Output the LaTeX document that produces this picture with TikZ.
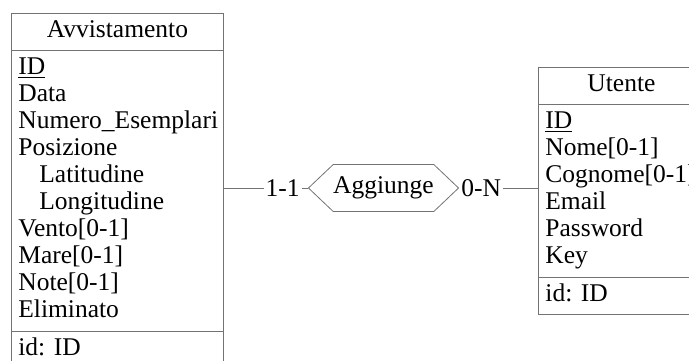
\documentclass[tikz,border=0pt]{standalone}
\usepackage{fontspec}
\setmainfont{Liberation Serif}
\usetikzlibrary{shapes,positioning,calc}

\begin{document}
\begin{tikzpicture}[x=0.5pt, y=-0.5pt, font=\fontsize{12.75}{13.5}\selectfont\frenchspacing,
    entity/.style={rectangle split, rectangle split parts=3, draw=black!55, align=left,
        text width=#1, inner xsep=3.5pt, inner ysep=2.4pt},
    relation/.style={signal, signal to=east and west, signal pointer angle=87, draw=black!55,
        minimum width=71.5pt, minimum height=23.5pt, inner sep=0pt},
    card/.style={fill=white, inner sep=1pt},
    link/.style={draw=black!55}]
        \useasboundingbox (0,0) rectangle (689,360);
        \clip (0,0) rectangle (689,360);

        % Entities
        \node[entity=99pt, anchor=north west] (avv) at (11,13) {%
            \makebox[\hsize]{\strut Avvistamento}
            \nodepart{two}\strut\underline{ID}\\ Data\\ Numero\_Esemplari\\ Posizione\\
            \hspace*{10.5pt}Latitudine\\ \hspace*{10.5pt}Longitudine\\
            Vento[0-1]\\ Mare[0-1]\\ Note[0-1]\\ Eliminato\strut
            \nodepart{three}\strut id: ID};
        \node[entity=76pt, anchor=north west] (ute) at (538,67) {%
            \makebox[\hsize]{\strut Utente}
            \nodepart{two}\strut\underline{ID}\\ Nome[0-1]\\ Cognome[0-1]\\ Email\\
            Password\\ Key\strut
            \nodepart{three}\strut id: ID};

        % Relationship
        \node[relation] (agg) at (383.5,188) {Aggiunge};

        % Connections
        \draw[link] (avv.east |- agg.west) -- node[card, pos=.7]{1-1} (agg.west);
        \draw[link] (agg.east) -- node[card, pos=.28]{0-N} (ute.west |- agg.east);
    \end{tikzpicture}
\end{document}
